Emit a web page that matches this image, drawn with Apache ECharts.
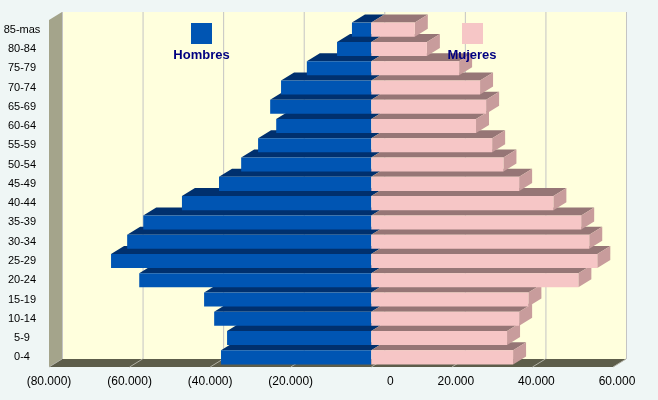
<!DOCTYPE html>
<html><head><meta charset="utf-8">
<script src="https://cdn.jsdelivr.net/npm/echarts@6/dist/echarts.min.js"></script>
<style>html,body{margin:0;padding:0;background:#EFF6F5;}#c{width:658px;height:400px;}</style>
</head><body><div id="c"></div>
<script>
const categories = ['0-4','5-9','10-14','15-19','20-24','25-29','30-34','35-39','40-44','45-49','50-54','55-59','60-64','65-69','70-74','75-79','80-84','85-mas'];
const hombres = [-37300,-35800,-39000,-41500,-57600,-64600,-60600,-56600,-47000,-37800,-32300,-28100,-23600,-25100,-22400,-16000,-8500,-4800];
const mujeres = [35200,33700,36700,39000,51400,56100,54100,52100,45200,36700,32800,30000,26000,28500,27000,21800,13800,10800];
const xTicks = [-80000,-60000,-40000,-20000,0,20000,40000,60000];
const seriesNames = ['Hombres','Mujeres'];

const DX = 13, DY = -8;
const FONT = '"Liberation Sans", Arial, sans-serif';

function fmtNum(n){ return String(Math.abs(n)).replace(/\B(?=(\d{3})+(?!\d))/g,'.'); }

function renderFrame(params, api){
  const band = api.size([0,1])[1];
  const yb = api.coord([0,0])[1] + band/2;
  const yt = api.coord([0,categories.length-1])[1] - band/2;
  const xl = api.coord([xTicks[0],0])[0];
  const xr = api.coord([xTicks[xTicks.length-1],0])[0];
  const ch = [];
  ch.push({type:'rect', shape:{x:xl+DX, y:yt+DY, width:xr-xl, height:yb-yt}, style:{fill:'#FFFFDD'}});
  ch.push({type:'polygon', shape:{points:[[xl,yb],[xl,yt],[xl+DX,yt+DY],[xl+DX,yb+DY]]}, style:{fill:'#A4A48B'}});
  ch.push({type:'polygon', shape:{points:[[xl,yb],[xr,yb],[xr+DX,yb+DY],[xl+DX,yb+DY]]}, style:{fill:'#5D5D4A'}});
  xTicks.forEach(function(t){
    const x = api.coord([t,0])[0];
    ch.push({type:'line', shape:{x1:x+DX+0.5, y1:yt+DY, x2:x+DX+0.5, y2:yb+DY}, style:{stroke:'#C4C4C4', lineWidth:1}});
    ch.push({type:'line', shape:{x1:x, y1:yb, x2:x+DX, y2:yb+DY}, style:{stroke:'#B0B0A4', lineWidth:1}});
  });
  return {type:'group', children:ch};
}

function makeBar(front, top, side){
  return function(params, api){
    const v = api.value(0), idx = api.value(1);
    const p0 = api.coord([0, idx]), p1 = api.coord([v, idx]);
    const h = api.size([0,1])[1]*0.73;
    const x0 = Math.min(p0[0],p1[0]), x1 = Math.max(p0[0],p1[0]);
    const y0 = p0[1]-h/2, y1 = p0[1]+h/2;
    const ch = [
      {type:'polygon', shape:{points:[[x0,y0],[x1,y0],[x1+DX,y0+DY],[x0+DX,y0+DY]]}, style:{fill:top}}
    ];
    if (side) ch.push({type:'polygon', shape:{points:[[x1,y0],[x1+DX,y0+DY],[x1+DX,y1+DY],[x1,y1]]}, style:{fill:side}});
    ch.push({type:'rect', shape:{x:x0,y:y0,width:x1-x0,height:y1-y0}, style:{fill:front}});
    return {type:'group', children:ch};
  };
}

const chart = echarts.init(document.getElementById('c'));
chart.setOption({
  backgroundColor:'#EFF6F5',
  animation:false,
  grid:{left:49, right:45, top:20, bottom:33},
  xAxis:{type:'value', min:-80000, max:60000, interval:20000,
    axisLine:{show:false}, axisTick:{show:false}, splitLine:{show:false},
    axisLabel:{fontSize:12, color:'#000', fontFamily:FONT, margin:9,
      formatter:function(v){
        if (v<0) return '(' + fmtNum(v) + ')';
        if (v===0) return '{z|0}';
        return '{p|' + fmtNum(v) + '}';
      },
      rich:{
        p:{fontSize:12, color:'#000', fontFamily:FONT, padding:[0,0,0,8]},
        z:{fontSize:12, color:'#000', fontFamily:FONT, padding:[0,0,0,38]}
      }
    }
  },
  yAxis:{type:'category', data:categories,
    axisLine:{show:false}, axisTick:{show:false}, splitLine:{show:false},
    axisLabel:{fontSize:11, color:'#000', fontFamily:FONT, align:'center', margin:27}
  },
  graphic:[
    {type:'rect', left:191, top:23, shape:{width:21,height:21}, style:{fill:'#0055B3'}, z:100},
    {type:'text', x:201.5, y:55, style:{text:seriesNames[0], fill:'#000080', font:'bold 13px '+FONT, textAlign:'center', textVerticalAlign:'middle'}, z:100},
    {type:'rect', left:462, top:23, shape:{width:21,height:21}, style:{fill:'#F6C6C6'}, z:100},
    {type:'text', x:472, y:55, style:{text:seriesNames[1], fill:'#000080', font:'bold 13px '+FONT, textAlign:'center', textVerticalAlign:'middle'}, z:100}
  ],
  series:[
    {type:'custom', name:'frame', renderItem:renderFrame, data:[[0,0]], encode:{x:0,y:1}, silent:true, z:1},
    {type:'custom', name:seriesNames[0], renderItem:makeBar('#0055B3','#00306E',null), data:hombres.map(function(v,i){return [v,i];}), encode:{x:0,y:1}, z:2},
    {type:'custom', name:seriesNames[1], renderItem:makeBar('#F6C6C6','#967676','#C89C9C'), data:mujeres.map(function(v,i){return [v,i];}), encode:{x:0,y:1}, z:3}
  ]
});
</script>
</body></html>
